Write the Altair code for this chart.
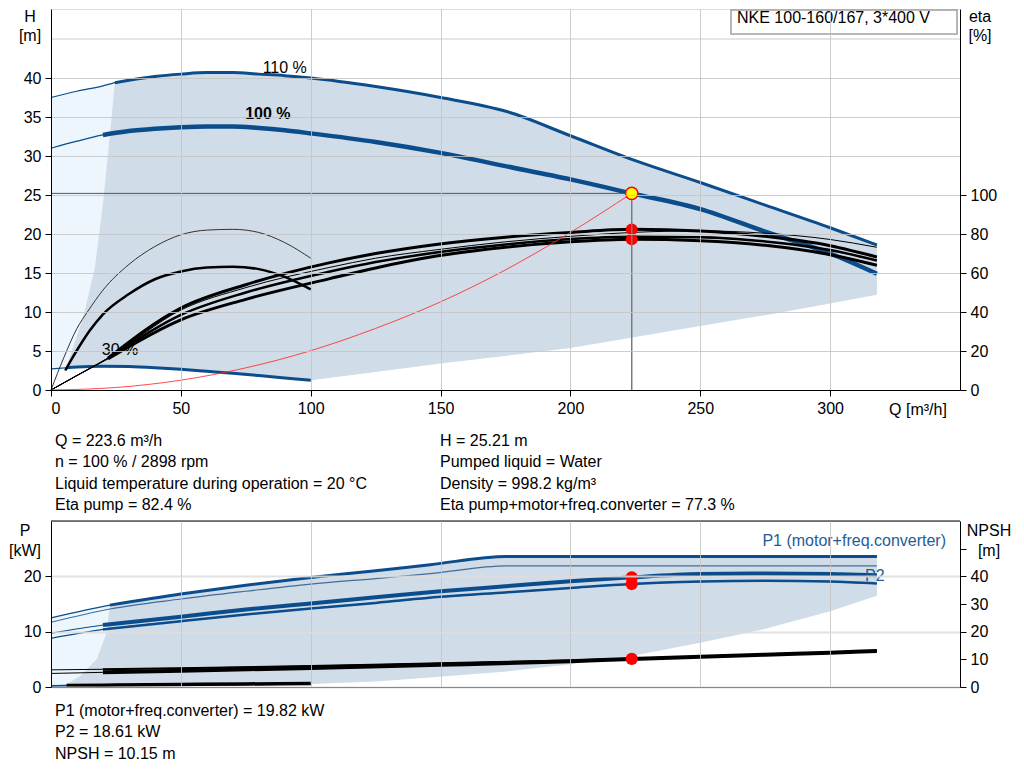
import altair as alt
import pandas as pd

# ---------------- operating point ----------------
OP_Q = 223.6
OP_H = 25.21
ETA_PUMP = 82.4
ETA_TOTAL = 77.3
P1_OP = 19.82
P2_OP = 18.61
NPSH_OP = 10.15

# ---------------- head curves H [m] ----------------
Q_110 = [0, 10, 20, 24.6, 40, 50, 60, 70, 80, 90, 100, 125, 150, 175.5, 200, 225, 250, 275, 300, 318]
H_110 = [37.5, 38.3, 39.0, 39.4, 40.2, 40.5, 40.7, 40.7, 40.5, 40.3, 40.0, 38.9, 37.5, 35.7, 32.6, 29.4, 26.6, 23.7, 20.8, 18.6]
Q_100 = [0, 10, 20, 30, 40, 50, 60, 70, 80, 90, 100, 125, 150, 175, 200, 223.6, 250, 275, 300, 318]
H_100 = [31.0, 31.9, 32.7, 33.2, 33.5, 33.7, 33.8, 33.8, 33.6, 33.3, 32.9, 31.8, 30.4, 28.7, 27.0, 25.21, 23.2, 20.3, 17.5, 14.9]
Q_30 = [0, 6, 10, 20, 30, 40, 50, 60, 70, 80, 90, 100]
H_30 = [2.7, 2.85, 2.95, 3.05, 3.0, 2.85, 2.65, 2.4, 2.15, 1.85, 1.55, 1.25]

# system curve (red)
Q_SYS = [0, 25, 50, 75, 100, 125, 150, 175, 200, 223.6]
H_SYS = [0, 0.32, 1.26, 2.84, 5.04, 7.9, 11.3, 15.4, 20.2, 25.21]

# operating range (top)
Q_RANGE_T = [6, 9, 12.4, 16.9, 20.1, 22.7, 24.6, 40, 50, 60, 70, 80, 90, 100, 125, 150, 175.5, 200, 225, 250, 275, 300, 318]
HI_RANGE_T = [2.9, 6.0, 9.3, 15.7, 24.2, 32.8, 39.4, 40.2, 40.5, 40.7, 40.7, 40.5, 40.3, 40.0, 38.9, 37.5, 35.7, 32.6, 29.4, 26.6, 23.7, 20.8, 18.6]
LO_RANGE_T = [2.85, 2.9, 2.95, 3.0, 3.05, 3.05, 3.05, 2.85, 2.65, 2.4, 2.15, 1.85, 1.55, 1.25, 2.3, 3.4, 4.4, 5.4, 6.8, 8.2, 9.6, 11.1, 12.2]
Q_LIGHT_T = [0, 6, 10, 20, 24.6]
HI_LIGHT_T = [37.5, 38.0, 38.3, 39.0, 39.4]
LO_LIGHT_T = [2.7, 2.85, 2.95, 3.05, 3.05]

# ---------------- efficiency curves eta [%] ----------------
Q_ETA = [0, 10, 22, 50, 75, 107, 125, 149, 175, 200, 223.6, 250, 275, 300, 318]
ETA_P100 = [0, 7.5, 16.4, 42.0, 54.0, 65.2, 70.0, 74.8, 78.4, 80.8, 82.4, 81.6, 78.8, 74.0, 68.2]
ETA_P110 = [0, 7.5, 16.4, 41.0, 52.5, 62.8, 67.6, 72.0, 76.0, 78.8, 80.8, 81.6, 80.4, 77.2, 73.2]
ETA_T110 = [0, 7.4, 16.2, 38.5, 50.0, 60.6, 65.6, 70.6, 74.6, 77.4, 78.6, 78.4, 76.2, 71.8, 66.4]
ETA_T100 = [0, 7.4, 16.0, 36.0, 46.5, 57.0, 62.6, 68.8, 73.2, 76.0, 77.3, 76.6, 74.2, 69.4, 64.0]
Q_ETA_A = [0, 5, 10, 14, 20, 30, 40, 50, 60, 70, 80, 90, 100]
ETA_A = [0, 16.8, 31.6, 40.0, 51.2, 64.4, 73.6, 79.6, 82.0, 82.4, 80.8, 75.6, 67.6]
Q_ETA_B = [5.5, 8, 10, 15, 20, 30, 40, 50, 60, 70, 80, 90, 100]
ETA_B = [10.0, 16.0, 20.4, 30.6, 38.8, 49.2, 56.8, 60.8, 62.8, 63.2, 62.0, 58.0, 51.6]

# ---------------- power curves P [kW] ----------------
Q_P110 = [0, 22.7, 50, 75, 100, 125, 146, 175.4, 318]
P1_110 = [12.5, 14.8, 16.8, 18.4, 19.8, 21.0, 22.1, 23.6, 23.6]
P2_110 = [11.7, 14.1, 15.9, 17.3, 18.6, 19.6, 20.5, 21.9, 21.9]
Q_P100 = [0, 20, 50, 75, 100, 125, 150, 175, 200, 223.6, 250, 275, 300, 318]
P1_100 = [9.7, 11.2, 12.7, 14.0, 15.1, 16.2, 17.3, 18.2, 19.1, 19.82, 20.4, 20.5, 20.4, 20.2]
P2_100 = [8.8, 10.4, 11.9, 13.1, 14.2, 15.2, 16.3, 17.1, 17.9, 18.61, 19.05, 19.2, 19.05, 18.7]
Q_P30 = [0, 25, 50, 75, 100]
P_30 = [0.2, 0.3, 0.4, 0.5, 0.55]

Q_RANGE_B = [1, 6, 11.2, 17.6, 21.4, 22.7, 50, 75, 100, 125, 146, 175.4, 200, 223.6, 250, 274, 300, 318]
HI_RANGE_B = [0.2, 0.5, 2.0, 5.0, 9.8, 14.8, 16.8, 18.4, 19.8, 21.0, 22.1, 23.6, 23.6, 23.6, 23.6, 23.6, 23.6, 23.6]
LO_RANGE_B = [0.2, 0.25, 0.3, 0.3, 0.3, 0.3, 0.4, 0.5, 0.55, 1.0, 1.7, 2.8, 4.1, 5.6, 8.0, 10.4, 13.7, 16.5]
Q_LIGHT_B = [0, 6, 11.2, 17.6, 22.7]
HI_LIGHT_B = [12.5, 13.1, 13.6, 14.3, 14.8]
LO_LIGHT_B = [0.1, 0.1, 0.1, 0.1, 0.1]

# ---------------- NPSH [m] ----------------
Q_N = [0, 20, 50, 100, 150, 200, 223.6, 250, 275, 300, 318]
NPSH_100 = [4.9, 5.3, 5.9, 6.9, 8.0, 9.3, 10.15, 10.9, 11.7, 12.4, 13.0]
NPSH_110 = [6.2, 6.4, 6.8, 7.6, 8.6, 9.6, 10.3, 11.0, 11.8, 12.5, 13.1]
Q_N30 = [6, 25, 50, 75, 100]
NPSH_30 = [0.5, 0.7, 0.9, 1.1, 1.3]

# ---------------- texts ----------------
TITLE_BOX = "NKE 100-160/167, 3*400 V"
INFO_LEFT = ["Q = 223.6 m³/h", "n = 100 % / 2898 rpm",
             "Liquid temperature during operation = 20 °C", "Eta pump = 82.4 %"]
INFO_RIGHT = ["H = 25.21 m", "Pumped liquid = Water", "Density = 998.2 kg/m³",
              "Eta pump+motor+freq.converter = 77.3 %"]
INFO_BOTTOM = ["P1 (motor+freq.converter) = 19.82 kW", "P2 = 18.61 kW", "NPSH = 10.15 m"]
X_TICKS = [0, 50, 100, 150, 200, 250, 300]
H_TICKS = [0, 5, 10, 15, 20, 25, 30, 35, 40]
ETA_TICKS = [0, 20, 40, 60, 80, 100]
P_TICKS = [0, 10, 20]
NPSH_TICKS = [0, 10, 20, 30, 40, 50]

# ---------------- style ----------------
FONT = "Liberation Sans"
BLUE = "#0b4d8c"
BLUE_THIN = "#3f6d9c"
FILL = "#d0dce7"
LIGHT = "#eef6fd"
GRID = "#c4c4c4"
W = 909
H_TOP = 381
H_BOT = 166

XS = alt.Scale(domain=[0, 350], nice=False, zero=False)
HS = alt.Scale(domain=[0, 48.85], nice=False)
ES = alt.Scale(domain=[0, 195.4], nice=False)
PS = alt.Scale(domain=[0, 30], nice=False)
NS = alt.Scale(domain=[0, 60], nice=False)

common_axis = dict(labelFont=FONT, labelFontSize=16, labelColor="black", tickColor="black",
                   tickSize=6, labelPadding=4, title=None, zindex=1, gridColor=GRID, gridOpacity=0.85)
XAX_T = alt.Axis(values=X_TICKS, grid=True, domainColor="black", **common_axis)
XAX_B = alt.Axis(values=X_TICKS, grid=True, labels=False, ticks=False, domainColor="#888888",
                 **{k: v for k, v in common_axis.items() if k not in ("tickSize",)})
HAX = alt.Axis(values=H_TICKS, grid=True, orient="left", domainColor="black", **common_axis)
EAX = alt.Axis(values=ETA_TICKS, grid=False, orient="right", domainColor="black", **common_axis)
PAX = alt.Axis(values=P_TICKS, grid=True, orient="left", domainColor="black", gridWidth=2,
               **{k: v for k, v in common_axis.items() if k not in ("gridColor",)}, )
NAX = alt.Axis(values=NPSH_TICKS, grid=False, orient="right", domainColor="black",
               labelExpr="datum.value <= 40 ? datum.label : ''", **common_axis)


def df(q, v):
    return pd.DataFrame({"Q": q, "v": v})


def line(q, v, ys, yax, xax, color, width, start=None, interp="monotone", opacity=1.0):
    c = alt.Chart(df(q, v))
    if start is not None:
        c = c.transform_filter(alt.datum.Q >= start)
    return c.mark_line(color=color, strokeWidth=width, interpolate=interp, opacity=opacity).encode(
        x=alt.X("Q:Q", scale=XS, axis=xax), y=alt.Y("v:Q", scale=ys, axis=yax), order="Q:Q")


def band(q, hi, lo, ys, yax, xax, color):
    d = pd.DataFrame({"Q": q, "hi": hi, "lo": lo})
    return alt.Chart(d).mark_area(color=color, opacity=1, interpolate="linear").encode(
        x=alt.X("Q:Q", scale=XS, axis=xax), y=alt.Y("hi:Q", scale=ys, axis=yax), y2="lo:Q")


def ptext(txt, x, y, size=16, align="left", baseline="middle", color="black", weight="normal"):
    return alt.Chart(pd.DataFrame({"t": [txt]})).mark_text(
        font=FONT, fontSize=size, align=align, baseline=baseline, color=color, fontWeight=weight
    ).encode(text="t:N", x=alt.value(x), y=alt.value(y))


def dtext(txt, q, v, ys, yax, xax, size=16, weight="normal", color="black"):
    return alt.Chart(pd.DataFrame({"Q": [q], "v": [v], "t": [txt]})).mark_text(
        font=FONT, fontSize=size, fontWeight=weight, color=color, align="center", baseline="middle"
    ).encode(x=alt.X("Q:Q", scale=XS, axis=xax), y=alt.Y("v:Q", scale=ys, axis=yax), text="t:N")


# ================= TOP PANEL =================
h_layers = [
    band(Q_LIGHT_T, HI_LIGHT_T, LO_LIGHT_T, HS, HAX, XAX_T, LIGHT),
    band(Q_RANGE_T, HI_RANGE_T, LO_RANGE_T, HS, HAX, XAX_T, FILL),
    alt.Chart(pd.DataFrame({"h": [45]})).mark_rule(color=GRID, strokeWidth=1, opacity=0.85).encode(
        y=alt.Y("h:Q", scale=HS, axis=HAX), x=alt.value(0), x2=alt.value(W)),
    line(Q_110, H_110, HS, HAX, XAX_T, BLUE, 1.2),
    line(Q_110, H_110, HS, HAX, XAX_T, BLUE, 3, start=24.6),
    line(Q_100, H_100, HS, HAX, XAX_T, BLUE, 1.2),
    line(Q_100, H_100, HS, HAX, XAX_T, BLUE, 4.5, start=20),
    line(Q_30, H_30, HS, HAX, XAX_T, BLUE, 1.2),
    line(Q_30, H_30, HS, HAX, XAX_T, BLUE, 3, start=6),
    dtext("110 %", 90, 41.3, HS, HAX, XAX_T),
    dtext("100 %", 83.5, 35.4, HS, HAX, XAX_T, weight="bold"),
    dtext("30 %", 26.6, 5.1, HS, HAX, XAX_T),
]
h_group = alt.layer(*h_layers)

eta_layers = [
    line(Q_ETA_A, ETA_A, ES, EAX, XAX_T, "#333333", 1),
    line(Q_ETA_B, ETA_B, ES, EAX, XAX_T, "black", 2.5),
    line(Q_ETA, ETA_P110, ES, EAX, XAX_T, "black", 1),
    line(Q_ETA, ETA_T110, ES, EAX, XAX_T, "black", 1),
    line(Q_ETA, ETA_T110, ES, EAX, XAX_T, "black", 2.5, start=22),
    line(Q_ETA, ETA_P100, ES, EAX, XAX_T, "black", 1),
    line(Q_ETA, ETA_P100, ES, EAX, XAX_T, "black", 3, start=22),
    line(Q_ETA, ETA_T100, ES, EAX, XAX_T, "black", 1),
    line(Q_ETA, ETA_T100, ES, EAX, XAX_T, "black", 3, start=22),
    alt.Chart(pd.DataFrame({"Q": [OP_Q, OP_Q], "v": [ETA_PUMP, ETA_TOTAL]})).mark_circle(
        color="#ff0000", size=140, opacity=1).encode(
        x=alt.X("Q:Q", scale=XS, axis=XAX_T), y=alt.Y("v:Q", scale=ES, axis=EAX)),
]
eta_group = alt.layer(*eta_layers)

op = pd.DataFrame({"Q": [OP_Q], "H": [OP_H], "Q0": [0.0], "H0": [0.0]})
front_layers = [
    line(Q_SYS, H_SYS, HS, None, XAX_T, "#ff2a2a", 1, opacity=0.85),
    alt.Chart(op).mark_rule(color="#555555", strokeWidth=1).encode(
        x=alt.X("Q0:Q", scale=XS, axis=XAX_T), x2="Q:Q", y=alt.Y("H:Q", scale=HS, axis=None)),
    alt.Chart(op).mark_rule(color="#7a7a7a", strokeWidth=1.5).encode(
        x=alt.X("Q:Q", scale=XS, axis=XAX_T), y=alt.Y("H0:Q", scale=HS, axis=None), y2="H:Q"),
    alt.Chart(op).mark_point(filled=True, fill="#ffff00", stroke="#ff0000", strokeWidth=1.5,
                             size=150, shape="circle", opacity=1).encode(
        x=alt.X("Q:Q", scale=XS, axis=XAX_T), y=alt.Y("H:Q", scale=HS, axis=None)),
    alt.Chart(pd.DataFrame({"a": [0]})).mark_rect(fill="white", stroke="#a0a0a0", strokeWidth=1.5).encode(
        x=alt.value(680), x2=alt.value(906), y=alt.value(1), y2=alt.value(25)),
    ptext(TITLE_BOX, 686, 1, baseline="top"),
    ptext("H", -21, 0, align="center", baseline="top"),
    ptext("[m]", -21, 27, align="center"),
    ptext("eta", 929, 0, align="center", baseline="top"),
    ptext("[%]", 929, 27, align="center"),
    ptext("Q [m³/h]", 867, 401, align="center"),
]
for i, t in enumerate(INFO_LEFT):
    front_layers.append(ptext(t, 4, 432 + i * 21.3))
for i, t in enumerate(INFO_RIGHT):
    front_layers.append(ptext(t, 389, 432 + i * 21.3))
front_group = alt.layer(*front_layers)

top = alt.layer(h_group, eta_group, front_group).resolve_scale(y="independent").properties(
    width=W, height=H_TOP)

# ================= BOTTOM PANEL =================
p_layers = [
    band(Q_LIGHT_B, HI_LIGHT_B, LO_LIGHT_B, PS, PAX, XAX_B, LIGHT),
    band(Q_RANGE_B, HI_RANGE_B, LO_RANGE_B, PS, PAX, XAX_B, FILL),
    line(Q_P110, P1_110, PS, PAX, XAX_B, BLUE, 1.2),
    line(Q_P110, P1_110, PS, PAX, XAX_B, BLUE, 3, start=22.7),
    line(Q_P110, P2_110, PS, PAX, XAX_B, BLUE_THIN, 1.2),
    line(Q_P100, P1_100, PS, PAX, XAX_B, BLUE, 1.2),
    line(Q_P100, P1_100, PS, PAX, XAX_B, BLUE, 4, start=20),
    line(Q_P100, P2_100, PS, PAX, XAX_B, BLUE, 1.2),
    line(Q_P100, P2_100, PS, PAX, XAX_B, BLUE, 2.5, start=20),
    line(Q_P30, P_30, PS, PAX, XAX_B, BLUE, 2),
    alt.Chart(pd.DataFrame({"Q": [OP_Q, OP_Q], "v": [P1_OP, P2_OP]})).mark_circle(
        color="#ff0000", size=150, opacity=1).encode(
        x=alt.X("Q:Q", scale=XS, axis=XAX_B), y=alt.Y("v:Q", scale=PS, axis=PAX)),
]
p_group = alt.layer(*p_layers)

n_layers = [
    line(Q_N, NPSH_110, NS, NAX, XAX_B, "black", 1),
    line(Q_N, NPSH_110, NS, NAX, XAX_B, "black", 2, start=20),
    line(Q_N, NPSH_100, NS, NAX, XAX_B, "black", 1),
    line(Q_N, NPSH_100, NS, NAX, XAX_B, "black", 4, start=20),
    line(Q_N30, NPSH_30, NS, NAX, XAX_B, "black", 3.5),
    alt.Chart(pd.DataFrame({"Q": [OP_Q], "v": [NPSH_OP]})).mark_circle(
        color="#ff0000", size=150, opacity=1).encode(
        x=alt.X("Q:Q", scale=XS, axis=XAX_B), y=alt.Y("v:Q", scale=NS, axis=NAX)),
]
n_group = alt.layer(*n_layers)

b_front = [
    alt.Chart(pd.DataFrame({"a": [0]})).mark_rule(color="black", strokeWidth=1).encode(
        x=alt.value(0), x2=alt.value(W), y=alt.value(0)),
    ptext("P", -26, 10, align="center"),
    ptext("[kW]", -26, 30, align="center"),
    ptext("NPSH", 938, 10, align="center"),
    ptext("[m]", 938, 30, align="center"),
    ptext("P1 (motor+freq.converter)", 895, 20, align="right", color="#1f5c99"),
    ptext("P2", 814, 55, color="#1f5c99"),
]
for i, t in enumerate(INFO_BOTTOM):
    b_front.append(ptext(t, 4, 190 + i * 21.3))
b_front_group = alt.layer(*b_front)

bottom = alt.layer(p_group, n_group, b_front_group).resolve_scale(y="independent").properties(
    width=W, height=H_BOT)

chart = alt.vconcat(top, bottom, spacing=131, bounds="flush").properties(
    padding={"left": 0, "top": 0, "right": 0, "bottom": 0}
).configure_view(stroke=None).configure(font=FONT)

chart.save("out.html", embed_options={"renderer": "svg", "actions": False})
